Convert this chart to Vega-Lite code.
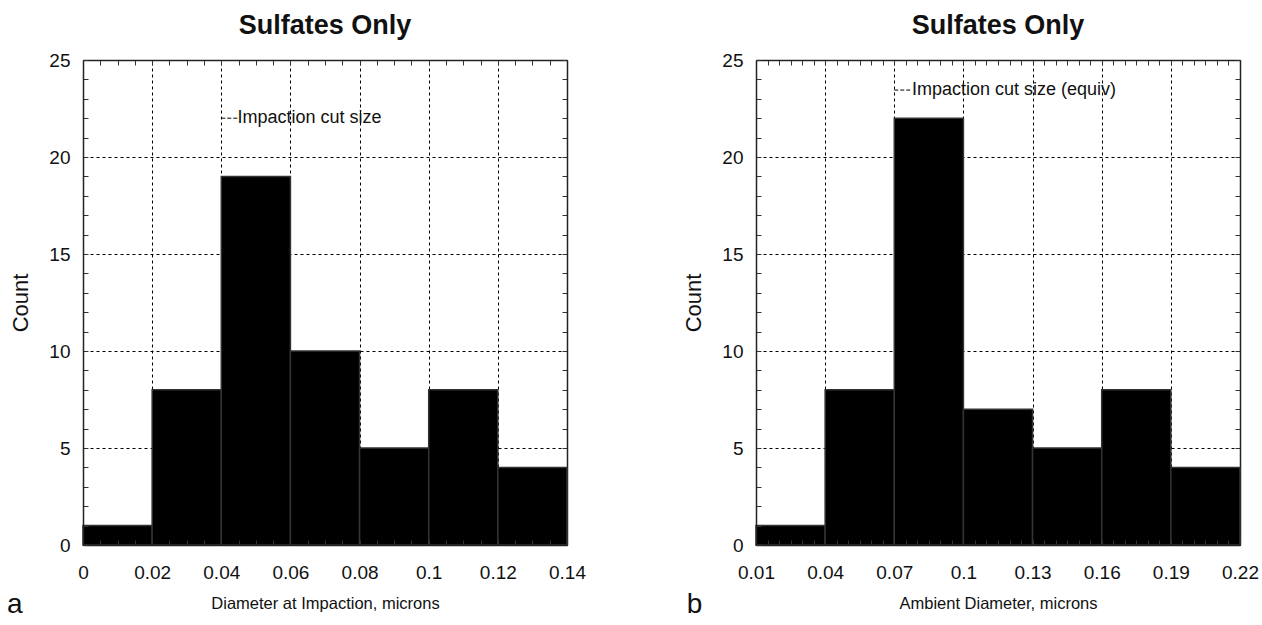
{
  "$schema": "https://vega.github.io/schema/vega-lite/v6.json",
  "padding": {"left": 6, "top": 12, "right": 5, "bottom": 0},
  "autosize": {"type": "pad"},
  "spacing": 96,
  "config": {
    "font": "Liberation Sans",
    "view": {"stroke": null},
    "axis": {"labelColor": "#111", "titleColor": "#111", "domainColor": "#222", "tickColor": "#333", "titleFontWeight": "normal", "labelOverlap": false, "labelFlush": false, "gridColor": "#000", "gridDash": [3, 3], "gridWidth": 1},
    "title": {"fontSize": 27, "fontWeight": "bold", "color": "#111", "offset": 11, "anchor": "middle"}
  },
  "hconcat": [
    {
      "width": 484,
      "height": 485,
      "title": "Sulfates Only",
      "layer": [
        {
          "data": {"values": [
            {"lo": 0, "hi": 0.02, "count": 1},
            {"lo": 0.02, "hi": 0.04, "count": 8},
            {"lo": 0.04, "hi": 0.06, "count": 19},
            {"lo": 0.06, "hi": 0.08, "count": 10},
            {"lo": 0.08, "hi": 0.1, "count": 5},
            {"lo": 0.1, "hi": 0.12, "count": 8},
            {"lo": 0.12, "hi": 0.14, "count": 4}
          ]},
          "mark": {"type": "bar", "fill": "#000", "stroke": "#333", "strokeWidth": 1.5},
          "encoding": {
            "x": {"field": "lo", "type": "quantitative", "scale": {"domain": [0, 0.14], "nice": false, "zero": false},
              "axis": {"orient": "bottom", "values": [0,0.005,0.01,0.015,0.02,0.025,0.03,0.035,0.04,0.045,0.05,0.055,0.06,0.065,0.07,0.075,0.08,0.085,0.09,0.095,0.1,0.105,0.11,0.115,0.12,0.125,0.13,0.135,0.14],
                "tickSize": -5, "labelExpr": "abs(datum.value/0.02 - round(datum.value/0.02)) < 1e-6 ? format(datum.value, '.2~f') : ''",
                "labelFontSize": 19, "labelPadding": 23, "grid": false, "domainWidth": 1.5,
                "title": "Diameter at Impaction, microns", "titleFontSize": 16.5, "titlePadding": 13, "zindex": 1}},
            "x2": {"field": "hi"},
            "y": {"field": "count", "type": "quantitative", "scale": {"domain": [0, 25], "nice": false},
              "axis": {"orient": "left", "values": [0,1,2,3,4,5,6,7,8,9,10,11,12,13,14,15,16,17,18,19,20,21,22,23,24,25],
                "tickSize": -5, "labelExpr": "datum.value % 5 == 0 ? datum.label : ''",
                "labelFontSize": 19, "labelPadding": 18, "grid": false, "domainWidth": 1.5,
                "title": "Count", "titleFontSize": 22, "titlePadding": 16, "zindex": 1}},
            "y2": {"datum": 0}
          }
        },
        {
          "data": {"values": [{"label": "Impaction cut size", "panel": "a"}]},
          "mark": {"type": "rule", "stroke": "#000", "strokeDash": [4, 2], "strokeWidth": 1},
          "encoding": {
            "x": {"datum": 0.04, "type": "quantitative",
              "axis": {"orient": "top", "values": [0,0.005,0.01,0.015,0.02,0.025,0.03,0.035,0.04,0.045,0.05,0.055,0.06,0.065,0.07,0.075,0.08,0.085,0.09,0.095,0.1,0.105,0.11,0.115,0.12,0.125,0.13,0.135,0.14],
                "tickSize": -5, "labels": false, "title": null, "grid": true, "domainWidth": 1.5,
                "gridOpacity": {"condition": {"test": "abs(datum.value/0.02 - round(datum.value/0.02)) < 1e-6", "value": 1}, "value": 0}, "zindex": 0}},
            "x2": {"datum": 0.0447},
            "y": {"datum": 22, "type": "quantitative",
              "axis": {"orient": "right", "values": [0,1,2,3,4,5,6,7,8,9,10,11,12,13,14,15,16,17,18,19,20,21,22,23,24,25],
                "tickSize": -5, "labels": false, "title": null, "grid": true, "domainWidth": 1.5,
                "gridOpacity": {"condition": {"test": "datum.value % 5 == 0", "value": 1}, "value": 0}, "zindex": 0}}
          }
        },
        {
          "data": {"values": [{"label": "Impaction cut size", "panel": "a"}]},
          "mark": {"type": "text", "align": "left", "baseline": "middle", "fontSize": 18, "color": "#111"},
          "encoding": {
            "x": {"datum": 0.0447, "type": "quantitative", "axis": null},
            "y": {"datum": 22, "type": "quantitative", "axis": null},
            "text": {"field": "label"}
          }
        },
        {
          "data": {"values": [{"label": "Impaction cut size", "panel": "a"}]},
          "mark": {"type": "text", "align": "left", "baseline": "alphabetic", "fontSize": 28, "color": "#111", "clip": false},
          "encoding": {
            "x": {"datum": -0.022, "type": "quantitative", "axis": null},
            "y": {"datum": -3.5, "type": "quantitative", "axis": null},
            "text": {"field": "panel"}
          }
        }
      ],
      "resolve": {"axis": {"x": "independent", "y": "independent"}}
    },
    {
      "width": 484,
      "height": 485,
      "title": "Sulfates Only",
      "layer": [
        {
          "data": {"values": [
            {"lo": 0.01, "hi": 0.04, "count": 1},
            {"lo": 0.04, "hi": 0.07, "count": 8},
            {"lo": 0.07, "hi": 0.1, "count": 22},
            {"lo": 0.1, "hi": 0.13, "count": 7},
            {"lo": 0.13, "hi": 0.16, "count": 5},
            {"lo": 0.16, "hi": 0.19, "count": 8},
            {"lo": 0.19, "hi": 0.22, "count": 4}
          ]},
          "mark": {"type": "bar", "fill": "#000", "stroke": "#333", "strokeWidth": 1.5},
          "encoding": {
            "x": {"field": "lo", "type": "quantitative", "scale": {"domain": [0.01, 0.22], "nice": false, "zero": false},
              "axis": {"orient": "bottom", "values": [0.01,0.015,0.02,0.025,0.03,0.035,0.04,0.045,0.05,0.055,0.06,0.065,0.07,0.075,0.08,0.085,0.09,0.095,0.1,0.105,0.11,0.115,0.12,0.125,0.13,0.135,0.14,0.145,0.15,0.155,0.16,0.165,0.17,0.175,0.18,0.185,0.19,0.195,0.2,0.205,0.21,0.215,0.22],
                "tickSize": -5, "labelExpr": "abs((datum.value-0.01)/0.03 - round((datum.value-0.01)/0.03)) < 1e-6 ? format(datum.value, '.2~f') : ''",
                "labelFontSize": 19, "labelPadding": 23, "grid": false, "domainWidth": 1.5,
                "title": "Ambient Diameter, microns", "titleFontSize": 16.5, "titlePadding": 13, "zindex": 1}},
            "x2": {"field": "hi"},
            "y": {"field": "count", "type": "quantitative", "scale": {"domain": [0, 25], "nice": false},
              "axis": {"orient": "left", "values": [0,1,2,3,4,5,6,7,8,9,10,11,12,13,14,15,16,17,18,19,20,21,22,23,24,25],
                "tickSize": -5, "labelExpr": "datum.value % 5 == 0 ? datum.label : ''",
                "labelFontSize": 19, "labelPadding": 18, "grid": false, "domainWidth": 1.5,
                "title": "Count", "titleFontSize": 22, "titlePadding": 16, "zindex": 1}},
            "y2": {"datum": 0}
          }
        },
        {
          "data": {"values": [{"label": "Impaction cut size (equiv)", "panel": "b"}]},
          "mark": {"type": "rule", "stroke": "#000", "strokeDash": [4, 2], "strokeWidth": 1},
          "encoding": {
            "x": {"datum": 0.07, "type": "quantitative",
              "axis": {"orient": "top", "values": [0.01,0.015,0.02,0.025,0.03,0.035,0.04,0.045,0.05,0.055,0.06,0.065,0.07,0.075,0.08,0.085,0.09,0.095,0.1,0.105,0.11,0.115,0.12,0.125,0.13,0.135,0.14,0.145,0.15,0.155,0.16,0.165,0.17,0.175,0.18,0.185,0.19,0.195,0.2,0.205,0.21,0.215,0.22],
                "tickSize": -5, "labels": false, "title": null, "grid": true, "domainWidth": 1.5,
                "gridOpacity": {"condition": {"test": "abs((datum.value-0.01)/0.03 - round((datum.value-0.01)/0.03)) < 1e-6", "value": 1}, "value": 0}, "zindex": 0}},
            "x2": {"datum": 0.0777},
            "y": {"datum": 23.45, "type": "quantitative",
              "axis": {"orient": "right", "values": [0,1,2,3,4,5,6,7,8,9,10,11,12,13,14,15,16,17,18,19,20,21,22,23,24,25],
                "tickSize": -5, "labels": false, "title": null, "grid": true, "domainWidth": 1.5,
                "gridOpacity": {"condition": {"test": "datum.value % 5 == 0", "value": 1}, "value": 0}, "zindex": 0}}
          }
        },
        {
          "data": {"values": [{"label": "Impaction cut size (equiv)", "panel": "b"}]},
          "mark": {"type": "text", "align": "left", "baseline": "middle", "fontSize": 18, "color": "#111"},
          "encoding": {
            "x": {"datum": 0.0777, "type": "quantitative", "axis": null},
            "y": {"datum": 23.45, "type": "quantitative", "axis": null},
            "text": {"field": "label"}
          }
        },
        {
          "data": {"values": [{"label": "Impaction cut size (equiv)", "panel": "b"}]},
          "mark": {"type": "text", "align": "left", "baseline": "alphabetic", "fontSize": 28, "color": "#111", "clip": false},
          "encoding": {
            "x": {"datum": -0.02, "type": "quantitative", "axis": null},
            "y": {"datum": -3.5, "type": "quantitative", "axis": null},
            "text": {"field": "panel"}
          }
        }
      ],
      "resolve": {"axis": {"x": "independent", "y": "independent"}}
    }
  ]
}
